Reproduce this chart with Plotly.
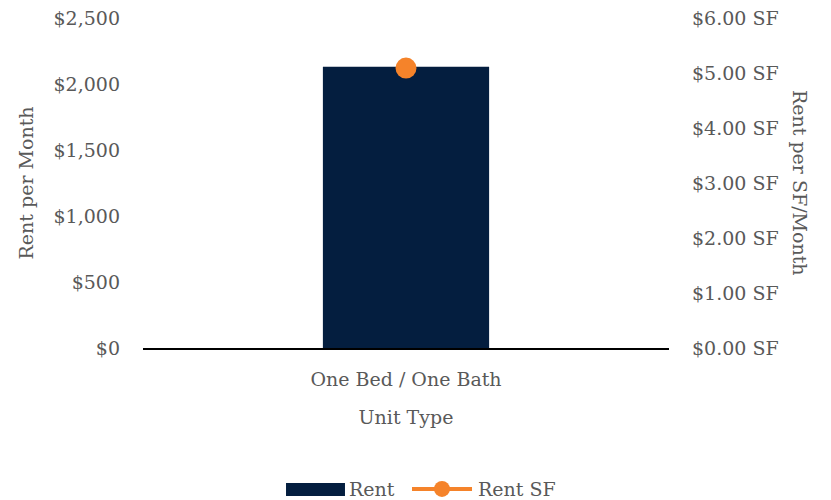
import plotly.graph_objects as go

# Unit mix data
unit_types = ["One Bed / One Bath"]
rent = [2130]
rent_sf = [5.09]

left_ticks = [0, 500, 1000, 1500, 2000, 2500]
left_labels = ["$0", "$500", "$1,000", "$1,500", "$2,000", "$2,500"]
right_ticks = [0, 1, 2, 3, 4, 5, 6]
right_labels = ["$%.2f SF" % v for v in right_ticks]

NAVY = "#041e3f"
ORANGE = "#f5832a"
TEXT = "#595959"
FONT = "DejaVu Serif"
FS = 19

fig = go.Figure()
fig.add_trace(go.Bar(
    x=unit_types, y=rent, name="Rent",
    marker=dict(color=NAVY, line=dict(width=0)),
    width=0.316, yaxis="y",
))
fig.add_trace(go.Scatter(
    x=unit_types, y=rent_sf, name="Rent SF",
    mode="lines+markers",
    line=dict(color=ORANGE, width=4),
    marker=dict(color=ORANGE, size=21),
    yaxis="y2",
))

# Legend drawn below the plot area: wide bar swatch and line-with-dot swatch
leg_y = -0.427
shapes = [
    dict(type="rect", xref="paper", yref="paper",
         x0=0.2719, x1=0.3840, y0=-0.4485, y1=-0.409,
         fillcolor=NAVY, line=dict(width=0)),
    dict(type="line", xref="paper", yref="paper",
         x0=0.5114, x1=0.6255, y0=leg_y, y1=leg_y,
         line=dict(color=ORANGE, width=4)),
    dict(type="circle", xref="paper", yref="paper",
         xsizemode="pixel", ysizemode="pixel",
         xanchor=0.5684, yanchor=leg_y, x0=-8, x1=8, y0=-8, y1=8,
         fillcolor=ORANGE, line=dict(width=0)),
]
annotations = [
    dict(text="Rent", xref="paper", yref="paper", x=0.3878, y=leg_y,
         xanchor="left", yanchor="middle", showarrow=False,
         font=dict(size=FS, color=TEXT)),
    dict(text="Rent SF", xref="paper", yref="paper", x=0.6331, y=leg_y,
         xanchor="left", yanchor="middle", showarrow=False,
         font=dict(size=FS, color=TEXT)),
    dict(text="Rent per SF/Month", textangle=90,
         xref="paper", yref="paper", x=1.0, y=0.5,
         xshift=144, showarrow=False,
         font=dict(size=FS, color=TEXT)),
]

fig.update_layout(
    width=831, height=500,
    margin=dict(l=143, r=162, t=18, b=152, autoexpand=False),
    paper_bgcolor="white", plot_bgcolor="white",
    font=dict(family=FONT, size=FS, color=TEXT),
    showlegend=False,
    xaxis=dict(
        showgrid=False, showline=True, linecolor="black", linewidth=2,
        ticks="", tickfont=dict(size=FS, color=TEXT),
        ticklabelstandoff=13,
        title=dict(text="Unit Type", standoff=22, font=dict(size=FS, color=TEXT)),
    ),
    yaxis=dict(
        range=[0, 2500], tickvals=left_ticks, ticktext=left_labels,
        showgrid=False, zeroline=False, showline=False, ticks="",
        ticklabelstandoff=22,
        title=dict(text="Rent per Month", standoff=14, font=dict(size=FS, color=TEXT)),
    ),
    yaxis2=dict(
        range=[0, 6], tickvals=right_ticks, ticktext=right_labels,
        overlaying="y", side="right",
        showgrid=False, zeroline=False, showline=False, ticks="",
        ticklabelstandoff=22,
    ),
    shapes=shapes,
    annotations=annotations,
)

fig.write_html("out.html")
